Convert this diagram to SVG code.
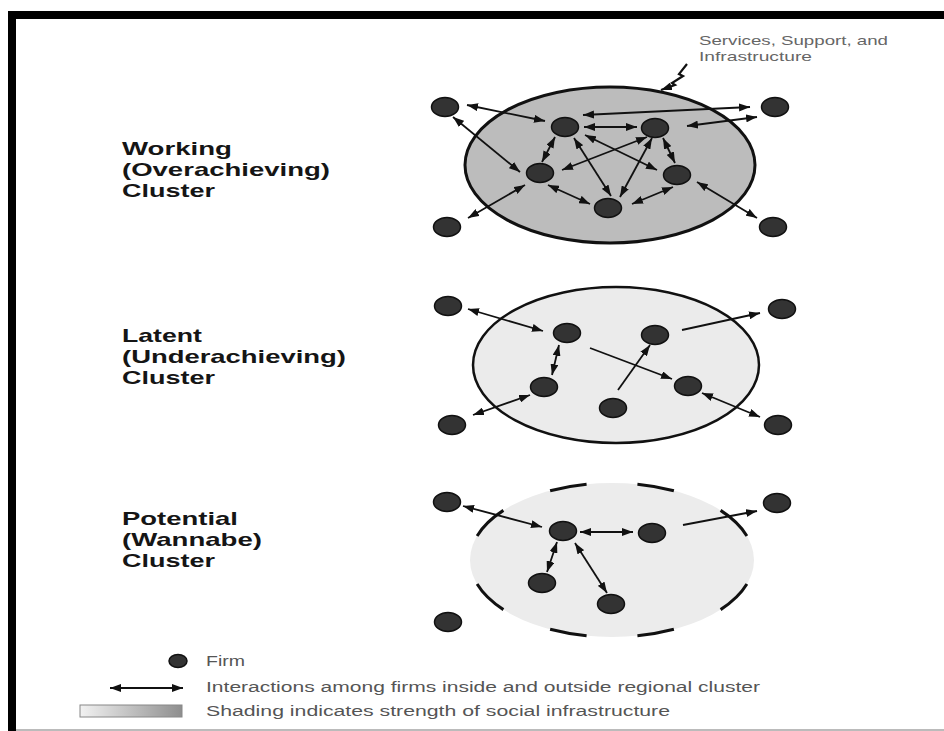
<svg xmlns="http://www.w3.org/2000/svg" width="944" height="731" viewBox="0 0 944 731">
<style>
.lbl{font-family:"Liberation Sans",Arial,sans-serif;font-weight:bold;font-size:18.5px;fill:#151515}
.leg{font-family:"Liberation Sans",Arial,sans-serif;font-size:14px;fill:#555}
.note{font-family:"Liberation Sans",Arial,sans-serif;font-size:13px;fill:#666}
.firm{fill:#333;stroke:#111;stroke-width:1.5}
.cx line,.cx polyline{stroke:#111;stroke-width:1.8;fill:none}
.dbl{marker-start:url(#ah);marker-end:url(#ah)}
.one{marker-end:url(#ah)}
</style>
<defs>
<marker id="ah" markerUnits="userSpaceOnUse" markerWidth="11" markerHeight="8" refX="11" refY="4" orient="auto-start-reverse">
<path d="M0,0 L11,4 L0,8 z" fill="#111"/>
</marker>
<linearGradient id="shade" x1="0" x2="1" y1="0" y2="0">
<stop offset="0" stop-color="#f2f2f2"/>
<stop offset="1" stop-color="#8e8e8e"/>
</linearGradient>
</defs>
<rect width="944" height="731" fill="#fff"/>
<!-- frame -->
<rect x="8" y="11" width="936" height="8" fill="#000"/>
<rect x="8" y="11" width="8" height="720" fill="#000"/>
<rect x="16" y="729" width="928" height="2" fill="#bbb"/>

<!-- cluster areas -->
<g id="area-working"><ellipse cx="610" cy="165" rx="145" ry="78" fill="#bcbcbc" stroke="#111" stroke-width="3"/></g>
<g id="area-latent"><ellipse cx="616" cy="365" rx="143" ry="78" fill="#ebebeb" stroke="#111" stroke-width="2.5"/></g>
<g id="area-potential"><ellipse cx="612" cy="560" rx="142" ry="77" fill="#ececec" stroke="#111" stroke-width="3" pathLength="704" stroke-dasharray="37 51" stroke-dashoffset="62.5"/></g>

<!-- labels -->
<g id="label-working">
<text class="lbl" x="122" y="155" textLength="110" lengthAdjust="spacingAndGlyphs">Working</text>
<text class="lbl" x="122" y="176" textLength="208" lengthAdjust="spacingAndGlyphs">(Overachieving)</text>
<text class="lbl" x="122" y="197" textLength="93" lengthAdjust="spacingAndGlyphs">Cluster</text>
</g>
<g id="label-latent">
<text class="lbl" x="122" y="342" textLength="80" lengthAdjust="spacingAndGlyphs">Latent</text>
<text class="lbl" x="122" y="363" textLength="224" lengthAdjust="spacingAndGlyphs">(Underachieving)</text>
<text class="lbl" x="122" y="384" textLength="93" lengthAdjust="spacingAndGlyphs">Cluster</text>
</g>
<g id="label-potential">
<text class="lbl" x="122" y="525" textLength="116" lengthAdjust="spacingAndGlyphs">Potential</text>
<text class="lbl" x="122" y="546" textLength="140" lengthAdjust="spacingAndGlyphs">(Wannabe)</text>
<text class="lbl" x="122" y="567" textLength="93" lengthAdjust="spacingAndGlyphs">Cluster</text>
</g>
<g id="note-services">
<text class="note" x="699" y="45" textLength="189" lengthAdjust="spacingAndGlyphs">Services, Support, and</text>
<text class="note" x="699" y="61" textLength="113" lengthAdjust="spacingAndGlyphs">Infrastructure</text>
</g>

<!-- connectors -->
<g id="connectors" class="cx">
<polyline class="one" style="stroke-width:2.2" points="687,64 679,74 683,76 672,83 675,85 661,90"/>
<!-- working -->
<line class="dbl" x1="467" y1="105" x2="545" y2="121"/>
<line class="dbl" x1="583" y1="115" x2="750" y2="107"/>
<line class="dbl" x1="687" y1="126" x2="757" y2="117"/>
<line class="dbl" x1="584" y1="127" x2="637" y2="127"/>
<line class="dbl" x1="555" y1="137" x2="542" y2="162"/>
<line class="dbl" x1="574" y1="138" x2="611" y2="196"/>
<line class="dbl" x1="585" y1="135" x2="657" y2="170"/>
<line class="dbl" x1="647" y1="137" x2="562" y2="170"/>
<line class="dbl" x1="652" y1="138" x2="620" y2="197"/>
<line class="dbl" x1="663" y1="138" x2="675" y2="163"/>
<line class="dbl" x1="453" y1="117" x2="520" y2="172"/>
<line class="dbl" x1="548" y1="185" x2="590" y2="204"/>
<line class="dbl" x1="632" y1="204" x2="673" y2="187"/>
<line class="dbl" x1="525" y1="185" x2="468" y2="218"/>
<line class="dbl" x1="697" y1="182" x2="757" y2="218"/>
<!-- latent -->
<line class="dbl" x1="468" y1="309" x2="543" y2="331"/>
<line class="one" x1="682" y1="330" x2="760" y2="313"/>
<line class="dbl" x1="559" y1="345" x2="552" y2="375"/>
<line class="one" x1="590" y1="348" x2="672" y2="379"/>
<line class="one" x1="618" y1="390" x2="650" y2="345"/>
<line class="dbl" x1="530" y1="395" x2="473" y2="415"/>
<line class="dbl" x1="702" y1="393" x2="760" y2="417"/>
<!-- potential -->
<line class="dbl" x1="463" y1="506" x2="542" y2="527"/>
<line class="dbl" x1="580" y1="532" x2="633" y2="532"/>
<line class="one" x1="683" y1="525" x2="757" y2="511"/>
<line class="dbl" x1="557" y1="542" x2="547" y2="572"/>
<line class="dbl" x1="575" y1="543" x2="607" y2="593"/>
<!-- legend arrow -->
<line class="dbl" x1="110" y1="688" x2="183" y2="688"/>
</g>

<!-- firms: working -->
<g id="w-out-tl"><ellipse class="firm" cx="445" cy="107" rx="13.5" ry="9.5"/></g>
<g id="w-out-tr"><ellipse class="firm" cx="775" cy="107" rx="13.5" ry="9.5"/></g>
<g id="w-a"><ellipse class="firm" cx="565" cy="127" rx="13.5" ry="9.5"/></g>
<g id="w-b"><ellipse class="firm" cx="655" cy="128" rx="13.5" ry="9.5"/></g>
<g id="w-c"><ellipse class="firm" cx="540" cy="173" rx="13.5" ry="9.5"/></g>
<g id="w-d"><ellipse class="firm" cx="677" cy="175" rx="13.5" ry="9.5"/></g>
<g id="w-e"><ellipse class="firm" cx="608" cy="208" rx="13.5" ry="9.5"/></g>
<g id="w-out-bl"><ellipse class="firm" cx="447" cy="227" rx="13.5" ry="9.5"/></g>
<g id="w-out-br"><ellipse class="firm" cx="773" cy="227" rx="13.5" ry="9.5"/></g>
<!-- firms: latent -->
<g id="l-out-tl"><ellipse class="firm" cx="448" cy="306" rx="13.5" ry="9.5"/></g>
<g id="l-out-tr"><ellipse class="firm" cx="782" cy="309" rx="13.5" ry="9.5"/></g>
<g id="l-a"><ellipse class="firm" cx="567" cy="333" rx="13.5" ry="9.5"/></g>
<g id="l-b"><ellipse class="firm" cx="655" cy="335" rx="13.5" ry="9.5"/></g>
<g id="l-c"><ellipse class="firm" cx="544" cy="387" rx="13.5" ry="9.5"/></g>
<g id="l-d"><ellipse class="firm" cx="688" cy="386" rx="13.5" ry="9.5"/></g>
<g id="l-e"><ellipse class="firm" cx="613" cy="408" rx="13.5" ry="9.5"/></g>
<g id="l-out-bl"><ellipse class="firm" cx="452" cy="425" rx="13.5" ry="9.5"/></g>
<g id="l-out-br"><ellipse class="firm" cx="778" cy="425" rx="13.5" ry="9.5"/></g>
<!-- firms: potential -->
<g id="p-out-tl"><ellipse class="firm" cx="447" cy="502" rx="13.5" ry="9.5"/></g>
<g id="p-out-tr"><ellipse class="firm" cx="777" cy="503" rx="13.5" ry="9.5"/></g>
<g id="p-a"><ellipse class="firm" cx="563" cy="531" rx="13.5" ry="9.5"/></g>
<g id="p-b"><ellipse class="firm" cx="652" cy="533" rx="13.5" ry="9.5"/></g>
<g id="p-c"><ellipse class="firm" cx="542" cy="583" rx="13.5" ry="9.5"/></g>
<g id="p-e"><ellipse class="firm" cx="611" cy="604" rx="13.5" ry="9.5"/></g>
<g id="p-out-bl"><ellipse class="firm" cx="448" cy="622" rx="13.5" ry="9.5"/></g>

<!-- legend -->
<g id="legend">
<ellipse class="firm" cx="178" cy="661" rx="9" ry="6.5"/>
<text class="leg" x="206" y="666" textLength="39" lengthAdjust="spacingAndGlyphs">Firm</text>
<text class="leg" x="206" y="692" textLength="554" lengthAdjust="spacingAndGlyphs">Interactions among firms inside and outside regional cluster</text>
<rect x="80" y="705" width="102" height="12" fill="url(#shade)" stroke="#888" stroke-width="1"/>
<text class="leg" x="206" y="716" textLength="464" lengthAdjust="spacingAndGlyphs">Shading indicates strength of social infrastructure</text>
</g>
</svg>
